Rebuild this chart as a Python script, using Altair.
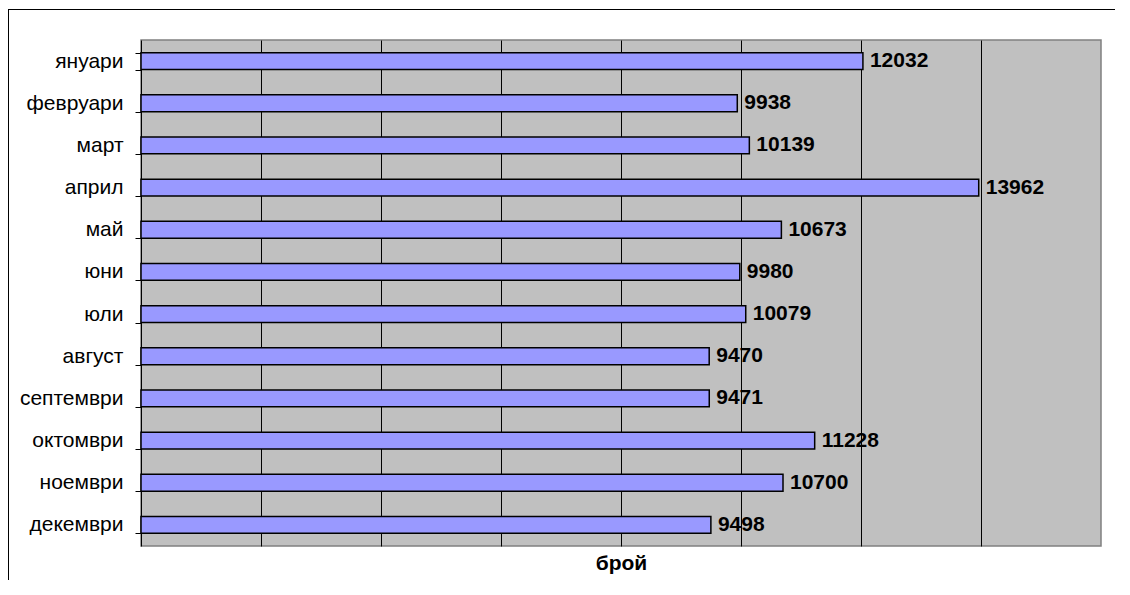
import altair as alt
import pandas as pd

months = ["януари", "февруари", "март", "април", "май", "юни", "юли",
          "август", "септември", "октомври", "ноември", "декември"]
counts = [12032, 9938, 10139, 13962, 10673, 9980, 10079, 9470, 9471, 11228, 10700, 9498]
grid_values = [0, 2000, 4000, 6000, 8000, 10000, 12000, 14000, 16000]

df = pd.DataFrame({"month": months, "count": counts})

W, H = 960, 506
PL, PT, PR, PB = 133, 32, 14, 34
FONT = "Liberation Sans"

x = alt.X("count:Q",
          scale=alt.Scale(domain=[0, 16000], nice=False, zero=True),
          axis=alt.Axis(title="брой", labels=False, ticks=False, domain=False,
                        grid=True, gridColor="#000000", gridWidth=1,
                        values=grid_values[1:-1],
                        titleFont=FONT, titleFontSize=21, titleFontWeight="bold",
                        titleColor="#000000", titlePadding=6))
y = alt.Y("month:N", sort=months,
          scale=alt.Scale(paddingInner=0.6, paddingOuter=0.3),
          axis=alt.Axis(title=None, domain=True, domainColor="#000000",
                        ticks=True, tickBand="extent", tickSize=6, tickColor="#000000",
                        labelFont=FONT, labelFontSize=21, labelColor="#000000",
                        labelPadding=12, labelAlign="right", grid=False))

bars = alt.Chart(df).mark_bar(color="#9999FF", stroke="#000000", strokeWidth=1.5).encode(x=x, y=y)

labels = alt.Chart(df).mark_text(align="left", baseline="middle", dx=7,
                                 font=FONT, fontSize=21, fontWeight="bold",
                                 color="#000000").encode(
    x="count:Q", y=alt.Y("month:N", sort=months), text="count:Q")

frame_top = alt.Chart(df).mark_rule(color="#000000", strokeWidth=1).encode(
    x=alt.value(-PL + 0.5), x2=alt.value(W + PR), y=alt.value(-PT + 1.5))
frame_left = alt.Chart(df).mark_rule(color="#000000", strokeWidth=1).encode(
    x=alt.value(-PL + 0.5), y=alt.value(-PT + 1.5), y2=alt.value(H + PB))

chart = alt.layer(bars, labels, frame_top, frame_left).properties(
    width=W, height=H,
    autosize=alt.AutoSizeParams(type="none"),
    padding={"left": PL, "top": PT, "right": PR, "bottom": PB},
    background="#FFFFFF",
).configure_view(
    fill="#C0C0C0", stroke="#808080", strokeWidth=1.5
)

chart.save("out.html", embed_options={"renderer": "svg", "actions": False})
